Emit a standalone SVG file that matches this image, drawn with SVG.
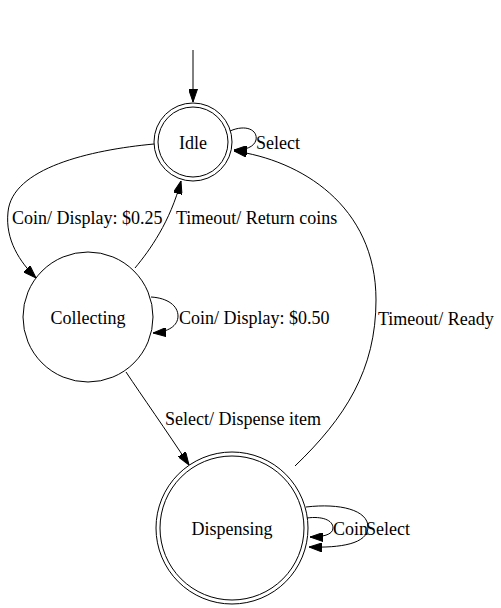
<svg xmlns="http://www.w3.org/2000/svg" width="501" height="608" viewBox="0 0 501 608">
<style>
.n{fill:none;stroke:#000;stroke-width:1}
.e{fill:none;stroke:#000;stroke-width:1;marker-end:url(#ah)}
text{font-family:"Liberation Serif","Times New Roman",serif;font-size:18px;fill:#000}
.c{text-anchor:middle}
</style>
<defs>
<marker id="ah" viewBox="0 0 13 9" refX="13" refY="4.5" markerWidth="13" markerHeight="9" markerUnits="userSpaceOnUse" orient="auto">
<path d="M0,0 L13,4.5 L0,9 z" fill="#000" stroke="#000" stroke-width="1"/>
</marker>
</defs>
<rect width="501" height="608" fill="#fff"/>
<g id="edges">
<path id="e-start" class="e" d="M193,50 L193,102"/>
<path id="e-idle-self" class="e" d="M230,131 C246,124 258,130 256,140 C254,147 246,150 234,150"/>
<text x="256" y="149">Select</text>
<path id="e-idle-collecting" class="e" d="M154,144 C90,150 12,168 8,212 C5,240 20,262 36,278"/>
<text x="12" y="224">Coin/ Display: $0.25</text>
<path id="e-collecting-idle" class="e" d="M135,268 C150,250 170,222 181,181"/>
<text x="176" y="224">Timeout/ Return coins</text>
<path id="e-collecting-self" class="e" d="M151,297 C168,298 178,306 178,316 C178,326 168,332 153,333"/>
<text x="179" y="324">Coin/ Display: $0.50</text>
<path id="e-collecting-dispensing" class="e" d="M126,372 C142,396 166,430 189,465"/>
<text x="165" y="425">Select/ Dispense item</text>
<path id="e-dispensing-idle" class="e" d="M295,466 C345,418 376,370 376,300 C376,205 300,160 234,151"/>
<text x="378" y="325">Timeout/ Ready</text>
<path id="e-dispensing-coin" class="e" d="M307,518 C322,516 333,520 333,528 C333,535 322,537 310,537"/>
<text x="333" y="535">Coin</text>
<path id="e-dispensing-select" class="e" d="M306,507 C340,503 368,510 368,527 C368,544 340,548 309,547"/>
<text x="366" y="535">Select</text>
</g>
<g id="node-idle">
<circle class="n" cx="193" cy="142" r="39"/>
<circle class="n" cx="193" cy="142" r="35"/>
<text class="c" x="193" y="149">Idle</text>
</g>
<g id="node-collecting">
<circle class="n" cx="88" cy="317" r="65"/>
<text class="c" x="88" y="324">Collecting</text>
</g>
<g id="node-dispensing">
<circle class="n" cx="232" cy="528" r="76"/>
<circle class="n" cx="232" cy="528" r="72"/>
<text class="c" x="232" y="535">Dispensing</text>
</g>
</svg>
